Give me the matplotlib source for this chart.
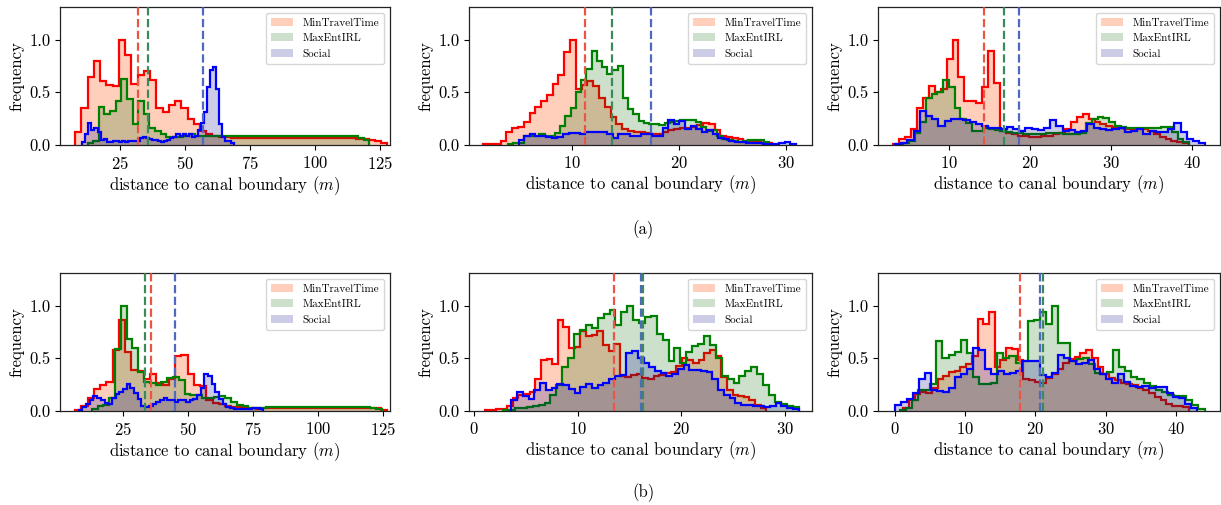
import numpy as np
import matplotlib
matplotlib.use("Agg")
import matplotlib.pyplot as plt
from matplotlib.patches import Patch

plt.rcParams['font.family'] = 'serif'
plt.rcParams['font.serif'] = ['cmr10']
plt.rcParams['mathtext.fontset'] = 'cm'
plt.rcParams['axes.formatter.use_mathtext'] = True

labels = ["MinTravelTime", "MaxEntIRL", "Social"]
xlabel = "distance to canal boundary ($m$)"
ylabel = "frequency"

# ---------------- panel (a)-1 ----------------
a1_range_red = (7.7, 128.0)
a1_red = [0.12, 0.35, 0.65, 0.80, 0.61, 0.57, 0.56, 1.00, 0.85, 0.58,
          0.66, 0.70, 0.62, 0.35, 0.31, 0.38, 0.42, 0.35, 0.25, 0.20,
          0.13, 0.10, 0.09, 0.08, 0.08, 0.07, 0.07, 0.07, 0.07, 0.07,
          0.07, 0.07, 0.07, 0.07, 0.07, 0.07, 0.07, 0.07, 0.07, 0.07,
          0.07, 0.07, 0.07, 0.07, 0.07, 0.06, 0.06, 0.05, 0.04, 0.02]
a1_range_green = (12.5, 121.0)
a1_green = [0.02, 0.04, 0.36, 0.29, 0.32, 0.42, 0.63, 0.44, 0.20, 0.42,
            0.29, 0.16, 0.13, 0.10, 0.08, 0.08, 0.08, 0.09, 0.10, 0.09,
            0.09, 0.09, 0.09, 0.09, 0.09, 0.09, 0.09, 0.09, 0.09, 0.09,
            0.09, 0.09, 0.09, 0.085, 0.085, 0.085, 0.085, 0.085, 0.085, 0.085,
            0.085, 0.085, 0.085, 0.085, 0.085, 0.085, 0.085, 0.085, 0.07, 0.05]
a1_range_blue = (10.5, 69.0)
a1_blue = [0.03, 0.10, 0.21, 0.14, 0.16, 0.12, 0.05, 0.06, 0.03, 0.03,
           0.04, 0.04, 0.03, 0.04, 0.03, 0.04, 0.04, 0.04, 0.04, 0.07,
           0.08, 0.07, 0.06, 0.05, 0.05, 0.04, 0.03, 0.04, 0.05, 0.07,
           0.08, 0.10, 0.09, 0.10, 0.09, 0.10, 0.08, 0.09, 0.14, 0.21,
           0.31, 0.55, 0.71, 0.74, 0.53, 0.20, 0.08, 0.04, 0.04, 0.02]
a1_means = [32.1, 35.9, 56.8]

# ---------------- panel (a)-2 ----------------
a2_range_red = (1.7, 28.7)
a2_red = [0.01, 0.01, 0.01, 0.04, 0.12, 0.16, 0.17, 0.22, 0.30, 0.36,
          0.42, 0.47, 0.58, 0.66, 0.88, 1.00, 0.53, 0.57, 0.61, 0.56,
          0.45, 0.36, 0.27, 0.20, 0.15, 0.13, 0.12, 0.12, 0.11, 0.10,
          0.10, 0.12, 0.14, 0.15, 0.16, 0.16, 0.17, 0.19, 0.21, 0.20,
          0.14, 0.09, 0.08, 0.07, 0.06, 0.04, 0.03, 0.03, 0.02, 0.02]
a2_range_green = (4.0, 28.4)
a2_green = [0.01, 0.02, 0.02, 0.09, 0.09, 0.09, 0.10, 0.09, 0.09, 0.11,
            0.18, 0.28, 0.35, 0.50, 0.62, 0.72, 0.89, 0.80, 0.74, 0.67,
            0.71, 0.75, 0.45, 0.34, 0.29, 0.23, 0.21, 0.20, 0.20, 0.19,
            0.21, 0.22, 0.23, 0.24, 0.24, 0.24, 0.22, 0.17, 0.13, 0.14,
            0.09, 0.06, 0.05, 0.04, 0.03, 0.04, 0.05, 0.05, 0.05, 0.03]
a2_range_blue = (5.0, 30.9)
a2_blue = [0.05, 0.09, 0.10, 0.09, 0.09, 0.08, 0.07, 0.08, 0.10, 0.11,
           0.11, 0.10, 0.12, 0.12, 0.12, 0.12, 0.10, 0.07, 0.10, 0.10,
           0.09, 0.09, 0.10, 0.10, 0.09, 0.09, 0.16, 0.24, 0.20, 0.23,
           0.15, 0.18, 0.15, 0.12, 0.14, 0.10, 0.07, 0.06, 0.04, 0.03,
           0.03, 0.02, 0.02, 0.02, 0.01, 0.01, 0.01, 0.02, 0.03, 0.01]
a2_means = [11.24, 13.73, 17.34]

# ---------------- panel (a)-3 ----------------
a3_range_red = (3.2, 39.7)
a3_red = [0.01, 0.06, 0.08, 0.15, 0.35, 0.45, 0.56, 0.50, 0.53, 0.82,
          1.00, 0.65, 0.42, 0.42, 0.40, 0.55, 0.89, 0.59, 0.13, 0.11,
          0.10, 0.09, 0.09, 0.08, 0.08, 0.09, 0.09, 0.10, 0.11, 0.15,
          0.22, 0.27, 0.29, 0.25, 0.22, 0.20, 0.18, 0.17, 0.16, 0.15,
          0.15, 0.15, 0.15, 0.13, 0.10, 0.08, 0.06, 0.04, 0.03, 0.02]
a3_range_green = (4.4, 39.7)
a3_green = [0.02, 0.04, 0.11, 0.22, 0.45, 0.48, 0.50, 0.62, 0.55, 0.35,
            0.25, 0.21, 0.13, 0.13, 0.16, 0.15, 0.14, 0.13, 0.12, 0.11,
            0.11, 0.10, 0.10, 0.10, 0.10, 0.11, 0.11, 0.11, 0.10, 0.10,
            0.10, 0.11, 0.21, 0.25, 0.27, 0.26, 0.22, 0.18, 0.17, 0.16,
            0.16, 0.16, 0.16, 0.16, 0.16, 0.17, 0.17, 0.12, 0.06, 0.03]
a3_range_blue = (3.4, 41.7)
a3_blue = [0.01, 0.02, 0.05, 0.13, 0.32, 0.28, 0.25, 0.18, 0.23, 0.25,
           0.25, 0.24, 0.22, 0.20, 0.18, 0.16, 0.16, 0.15, 0.17, 0.15,
           0.13, 0.16, 0.15, 0.14, 0.16, 0.24, 0.18, 0.13, 0.14, 0.12,
           0.13, 0.20, 0.16, 0.15, 0.14, 0.15, 0.16, 0.12, 0.13, 0.15,
           0.10, 0.13, 0.12, 0.12, 0.15, 0.21, 0.12, 0.06, 0.04, 0.02]
a3_means = [14.39, 16.84, 18.69]

# ---------------- panel (b)-1 ----------------
b1_range_red = (6.6, 126.7)
b1_red = [0.01, 0.05, 0.12, 0.21, 0.25, 0.28, 0.58, 0.86, 0.56, 0.39,
          0.38, 0.30, 0.35, 0.27, 0.25, 0.30, 0.52, 0.53, 0.35, 0.25,
          0.24, 0.10, 0.08, 0.07, 0.05, 0.04, 0.04, 0.03, 0.03, 0.02,
          0.03, 0.03, 0.03, 0.03, 0.03, 0.03, 0.03, 0.03, 0.03, 0.03,
          0.03, 0.03, 0.03, 0.03, 0.03, 0.03, 0.03, 0.03, 0.03, 0.01]
b1_range_green = (13.0, 124.5)
b1_green = [0.02, 0.05, 0.06, 0.12, 0.59, 1.00, 0.68, 0.60, 0.37, 0.28,
            0.27, 0.25, 0.28, 0.31, 0.32, 0.29, 0.16, 0.15, 0.15, 0.12,
            0.12, 0.13, 0.14, 0.12, 0.09, 0.06, 0.05, 0.03, 0.03, 0.03,
            0.035, 0.035, 0.035, 0.035, 0.035, 0.035, 0.035, 0.035, 0.035, 0.035,
            0.035, 0.035, 0.035, 0.035, 0.035, 0.035, 0.035, 0.035, 0.03, 0.02]
b1_range_blue = (8.0, 79.0)
b1_blue = [0.01, 0.04, 0.07, 0.10, 0.14, 0.12, 0.10, 0.08, 0.07, 0.12,
           0.16, 0.18, 0.21, 0.26, 0.22, 0.17, 0.11, 0.05, 0.04, 0.05,
           0.07, 0.09, 0.10, 0.12, 0.10, 0.10, 0.09, 0.10, 0.10, 0.09,
           0.10, 0.11, 0.15, 0.22, 0.35, 0.33, 0.26, 0.18, 0.11, 0.07,
           0.04, 0.03, 0.02, 0.02, 0.02, 0.02, 0.02, 0.03, 0.03, 0.02]
b1_means = [35.8, 33.6, 45.2]

# ---------------- panel (b)-2 ----------------
b2_range_red = (1.0, 28.2)
b2_red = [0.01, 0.01, 0.02, 0.02, 0.05, 0.12, 0.15, 0.16, 0.18, 0.30,
          0.48, 0.49, 0.45, 0.86, 0.80, 0.60, 0.61, 0.76, 0.71, 0.72,
          0.76, 0.63, 0.57, 0.64, 0.33, 0.32, 0.34, 0.35, 0.31, 0.30,
          0.33, 0.34, 0.36, 0.37, 0.43, 0.50, 0.48, 0.46, 0.48, 0.55,
          0.58, 0.52, 0.32, 0.20, 0.15, 0.14, 0.13, 0.10, 0.06, 0.03]
b2_range_green = (2.8, 31.3)
b2_green = [0.01, 0.01, 0.03, 0.03, 0.04, 0.05, 0.06, 0.08, 0.15, 0.25,
            0.42, 0.50, 0.73, 0.77, 0.82, 0.79, 0.88, 0.92, 0.96, 0.82,
            0.94, 1.00, 0.86, 0.84, 0.89, 0.90, 0.73, 0.67, 0.47, 0.60,
            0.46, 0.56, 0.62, 0.64, 0.71, 0.63, 0.50, 0.33, 0.30, 0.27,
            0.33, 0.38, 0.42, 0.35, 0.25, 0.15, 0.09, 0.07, 0.05, 0.04]
b2_range_blue = (3.6, 31.3)
b2_blue = [0.10, 0.18, 0.14, 0.11, 0.20, 0.27, 0.20, 0.22, 0.26, 0.25,
           0.21, 0.17, 0.23, 0.26, 0.22, 0.25, 0.27, 0.30, 0.33, 0.34,
           0.55, 0.57, 0.50, 0.46, 0.42, 0.38, 0.36, 0.33, 0.35, 0.40,
           0.44, 0.39, 0.39, 0.38, 0.37, 0.30, 0.20, 0.15, 0.12, 0.08,
           0.06, 0.06, 0.05, 0.05, 0.04, 0.05, 0.08, 0.05, 0.03, 0.02]
b2_means = [13.5, 16.33, 16.08]

# ---------------- panel (b)-3 ----------------
b3_range_red = (1.2, 41.9)
b3_red = [0.03, 0.10, 0.16, 0.18, 0.17, 0.22, 0.30, 0.33, 0.37, 0.38,
          0.42, 0.45, 0.52, 0.87, 0.83, 0.94, 0.42, 0.48, 0.60, 0.59,
          0.48, 0.30, 0.29, 0.28, 0.27, 0.31, 0.35, 0.40, 0.46, 0.49,
          0.51, 0.55, 0.58, 0.50, 0.42, 0.35, 0.31, 0.29, 0.27, 0.26,
          0.25, 0.22, 0.20, 0.17, 0.13, 0.10, 0.07, 0.05, 0.05, 0.04]
b3_range_green = (0.7, 44.1)
b3_green = [0.01, 0.03, 0.10, 0.20, 0.20, 0.26, 0.66, 0.50, 0.53, 0.56,
            0.67, 0.55, 0.32, 0.26, 0.26, 0.27, 0.55, 0.50, 0.52, 0.46,
            0.47, 0.85, 0.86, 0.94, 0.83, 1.00, 0.65, 0.65, 0.47, 0.49,
            0.50, 0.45, 0.36, 0.35, 0.37, 0.58, 0.42, 0.38, 0.32, 0.30,
            0.27, 0.24, 0.20, 0.18, 0.15, 0.14, 0.14, 0.10, 0.06, 0.02]
b3_range_blue = (0.0, 43.0)
b3_blue = [0.06, 0.09, 0.11, 0.17, 0.30, 0.36, 0.20, 0.19, 0.18, 0.22,
           0.32, 0.35, 0.40, 0.60, 0.58, 0.40, 0.35, 0.38, 0.35, 0.36,
           0.38, 0.47, 0.47, 0.47, 0.34, 0.32, 0.36, 0.53, 0.50, 0.47,
           0.45, 0.46, 0.48, 0.40, 0.35, 0.30, 0.27, 0.35, 0.28, 0.24,
           0.23, 0.24, 0.22, 0.23, 0.23, 0.17, 0.13, 0.12, 0.07, 0.03]
b3_means = [17.77, 21.1, 20.6]

panels = [
    ((a1_range_red, a1_red), (a1_range_green, a1_green), (a1_range_blue, a1_blue), a1_means),
    ((a2_range_red, a2_red), (a2_range_green, a2_green), (a2_range_blue, a2_blue), a2_means),
    ((a3_range_red, a3_red), (a3_range_green, a3_green), (a3_range_blue, a3_blue), a3_means),
    ((b1_range_red, b1_red), (b1_range_green, b1_green), (b1_range_blue, b1_blue), b1_means),
    ((b2_range_red, b2_red), (b2_range_green, b2_green), (b2_range_blue, b2_blue), b2_means),
    ((b3_range_red, b3_red), (b3_range_green, b3_green), (b3_range_blue, b3_blue), b3_means),
]
xlims = [(1.9, 129.0), (0.36, 32.4), (1.3, 43.5), (0.8, 127.7), (-0.5, 32.6), (-2.4, 46.3)]
xticks = [[25, 50, 75, 100, 125], [10, 20, 30], [10, 20, 30, 40],
          [25, 50, 75, 100, 125], [0, 10, 20, 30], [0, 10, 20, 30, 40]]

fill_colors = ['lightsalmon', 'darkgreen', 'darkblue']
fill_alphas = [0.5, 0.2, 0.2]
line_colors = ['red', 'green', 'blue']
mean_colors = ['#ec5545', '#3b8a5c', '#5068c0']

W, H = 1221, 505
fig = plt.figure(figsize=(W / 100, H / 100), dpi=100)
cols = [(60, 390), (469, 812), (878, 1220)]
rows = [(7, 145), (273, 411)]
FS = 12

for k, p in enumerate(panels):
    r, c = divmod(k, 3)
    x0, x1 = cols[c]
    y0, y1 = rows[r]
    ax = fig.add_axes([x0 / W, 1 - y1 / H, (x1 - x0) / W, (y1 - y0) / H])
    series = p[:3]
    means = p[3]
    for s, ((lo, hi), vals) in enumerate(series):
        vals = np.asarray(vals)
        edges = np.linspace(lo, hi, len(vals) + 1)
        ax.bar(edges[:-1], vals, width=np.diff(edges), align='edge',
               color=fill_colors[s], alpha=fill_alphas[s], linewidth=0)
        ax.stairs(vals, edges, color=line_colors[s], linewidth=1.6)
    for s, m in enumerate(means):
        ax.axvline(m, color=mean_colors[s], linestyle='--', linewidth=1.6, zorder=5)
    ax.set_xlim(*xlims[k])
    ax.set_ylim(0, 1.31)
    ax.set_xticks(xticks[k])
    ax.set_yticks([0.0, 0.5, 1.0])
    ax.set_yticklabels(['0.0', '0.5', '1.0'])
    ax.tick_params(labelsize=FS, length=3.5, width=0.8)
    ax.set_xlabel(xlabel, fontsize=FS, labelpad=2)
    ax.set_ylabel(ylabel, fontsize=FS, labelpad=3)
    for sp in ax.spines.values():
        sp.set_linewidth(0.9)
        sp.set_color('#222222')
    handles = [Patch(facecolor=fill_colors[i], alpha=fill_alphas[i], edgecolor='none')
               for i in range(3)]
    ax.legend(handles, labels, loc='upper right', fontsize=8, framealpha=0.8,
              borderpad=0.5, handlelength=2.0)

fig.text(643 / W, 1 - 230 / H, "(a)", ha='center', va='center', fontsize=FS)
fig.text(643 / W, 1 - 493 / H, "(b)", ha='center', va='center', fontsize=FS)

fig.savefig("out.png", dpi=100)
